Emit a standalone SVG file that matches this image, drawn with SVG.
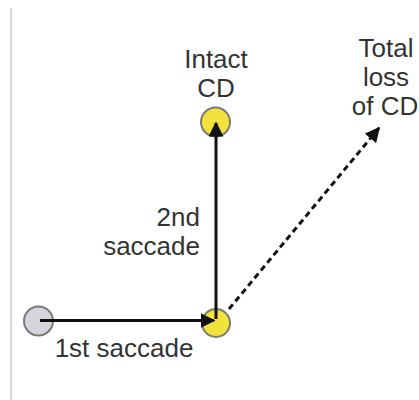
<svg xmlns="http://www.w3.org/2000/svg" width="419" height="400" viewBox="0 0 419 400">
  <defs>
    <marker id="head" viewBox="0 0 10 10" refX="9" refY="5" markerWidth="5" markerHeight="5" orient="auto" markerUnits="strokeWidth">
      <path d="M0,0 L10,5 L0,10 Z" fill="#111"/>
    </marker>
    <style>
      .lbl { font-family: "Liberation Sans", Arial, sans-serif; font-size: 26px; fill: #333; }
      .pt { stroke: #7a7a7a; stroke-width: 2; }
      .yel { fill: #f2e33c; }
      .start { fill: #d4d6dc; }
      .edge { stroke: #111; stroke-width: 3; fill: none; }
    </style>
  </defs>
  <rect width="419" height="400" fill="#fff"/>
  <!-- left frame rule -->
  <line x1="11" y1="8" x2="11" y2="400" stroke="#d8d8d8" stroke-width="2"/>

  <g id="start-point">
    <circle class="pt start" cx="38.5" cy="321" r="14.5"/>
  </g>
  <g id="landing-point">
    <circle class="pt yel" cx="216" cy="323" r="14"/>
  </g>
  <g id="intact-cd">
    <circle class="pt yel" cx="215.5" cy="122" r="14.5"/>
    <text class="lbl" x="216" y="68" text-anchor="middle">Intact</text>
    <text class="lbl" x="216" y="97" text-anchor="middle">CD</text>
  </g>
  <g id="total-loss">
    <text class="lbl" x="386" y="57" text-anchor="middle">Total</text>
    <text class="lbl" x="386" y="86" text-anchor="middle">loss</text>
    <text class="lbl" x="385" y="115" text-anchor="middle">of CD</text>
  </g>

  <g id="connectors">
    <line class="edge" x1="40" y1="320.5" x2="214" y2="320.5" marker-end="url(#head)"/>
    <line class="edge" x1="216" y1="319" x2="216" y2="123" marker-end="url(#head)"/>
    <line class="edge" x1="229" y1="309" x2="379" y2="128" stroke-dasharray="6 4" marker-end="url(#head)"/>
    <text class="lbl" x="124" y="357" text-anchor="middle">1st saccade</text>
    <text class="lbl" x="200" y="226" text-anchor="end">2nd</text>
    <text class="lbl" x="200" y="255" text-anchor="end">saccade</text>
  </g>
</svg>
